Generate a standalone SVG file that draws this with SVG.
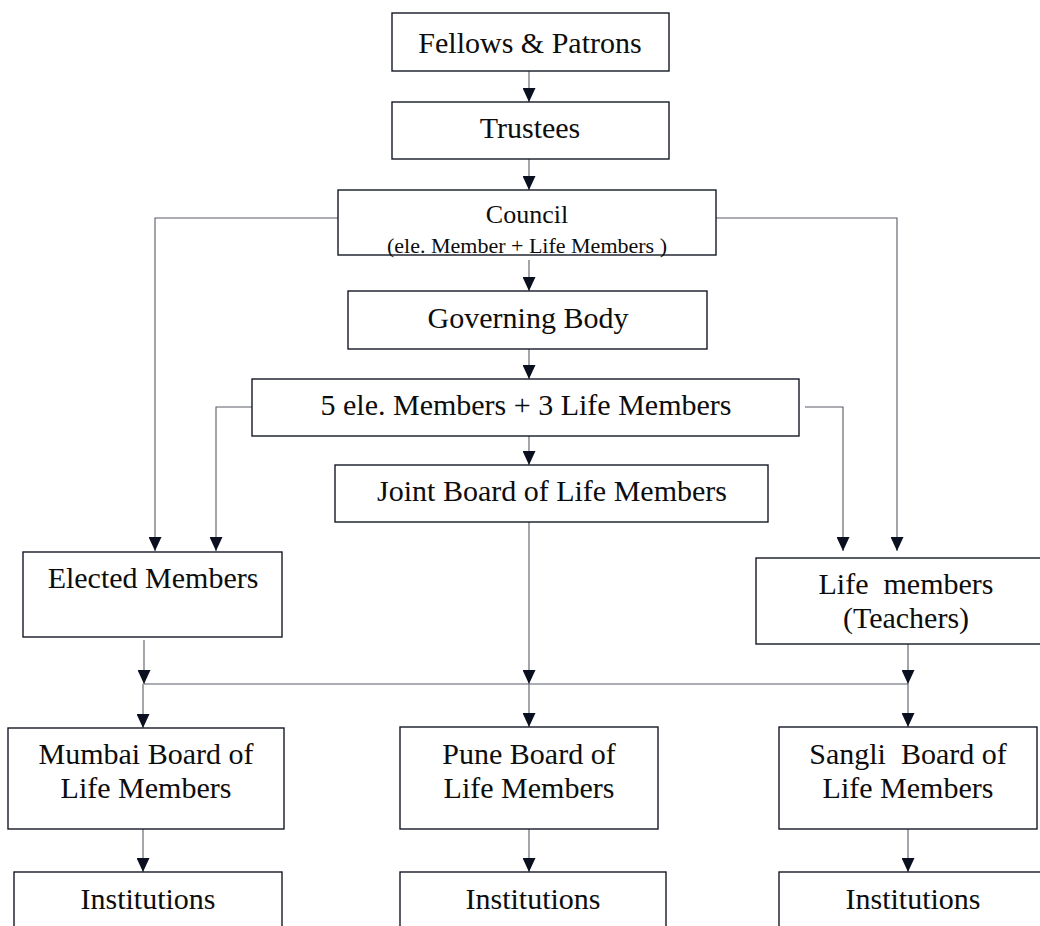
<svg xmlns="http://www.w3.org/2000/svg" width="1040" height="926" viewBox="0 0 1040 926">
<style>
.box{fill:#fff;stroke:#161925;stroke-width:1.4}
.t{font-family:"Liberation Serif","Times New Roman",serif;font-size:30px;fill:#0d0d0d;text-anchor:middle}
.c{stroke:#5a5c66;stroke-width:1.1;fill:none}
</style>
<defs>
<marker id="ah" viewBox="0 0 14 13" refX="14" refY="6.5" markerWidth="14" markerHeight="13" markerUnits="userSpaceOnUse" orient="auto">
<path d="M0,0 L14,6.5 L0,13 Z" fill="#0b1020"/>
</marker>
</defs>
<rect width="1040" height="926" fill="#fff"/>
<g id="connectors">
<path class="c" d="M529,71 V102" marker-end="url(#ah)"/>
<path class="c" d="M529,159 V190" marker-end="url(#ah)"/>
<path class="c" d="M529,260 V291" marker-end="url(#ah)"/>
<path class="c" d="M529,349 V379" marker-end="url(#ah)"/>
<path class="c" d="M529,436 V465" marker-end="url(#ah)"/>
<path class="c" d="M338,218 H155 V551" marker-end="url(#ah)"/>
<path class="c" d="M252,407 H216 V551" marker-end="url(#ah)"/>
<path class="c" d="M716,218 H897 V551" marker-end="url(#ah)"/>
<path class="c" d="M805,407 H843 V551" marker-end="url(#ah)"/>
<path class="c" d="M529,522 V684" marker-end="url(#ah)"/>
<path class="c" d="M144,640 V684" marker-end="url(#ah)"/>
<path class="c" d="M908,644 V684" marker-end="url(#ah)"/>
<path class="c" d="M144,684 H908"/>
<path class="c" d="M143,684 V728" marker-end="url(#ah)"/>
<path class="c" d="M529,684 V727" marker-end="url(#ah)"/>
<path class="c" d="M908,684 V727" marker-end="url(#ah)"/>
<path class="c" d="M143,829 V872" marker-end="url(#ah)"/>
<path class="c" d="M529,829 V872" marker-end="url(#ah)"/>
<path class="c" d="M908,829 V872" marker-end="url(#ah)"/>
</g>
<g id="fellows"><rect class="box" x="392" y="13" width="277" height="58"/><text class="t" x="530" y="53">Fellows &amp; Patrons</text></g>
<g id="trustees"><rect class="box" x="392" y="102" width="277" height="57"/><text class="t" x="530" y="138">Trustees</text></g>
<g id="council"><rect class="box" x="338" y="190" width="378" height="65"/><text class="t" x="527" y="223" style="font-size:26px">Council</text><text class="t" x="527" y="253" style="font-size:22px">(ele. Member + Life Members )</text></g>
<g id="governing"><rect class="box" x="348" y="291" width="359" height="58"/><text class="t" x="528" y="328">Governing Body</text></g>
<g id="ele"><rect class="box" x="252" y="379" width="547" height="57"/><text class="t" x="526" y="415">5 ele. Members + 3 Life Members</text></g>
<g id="joint"><rect class="box" x="335" y="465" width="433" height="57"/><text class="t" x="552" y="501">Joint Board of Life Members</text></g>
<g id="elected"><rect class="box" x="23" y="552" width="259" height="85"/><text class="t" x="153" y="588">Elected Members</text></g>
<g id="life"><rect class="box" x="756" y="558" width="300" height="86"/><text class="t" x="906" y="594" xml:space="preserve">Life  members</text><text class="t" x="906" y="628">(Teachers)</text></g>
<g id="mumbai"><rect class="box" x="8" y="728" width="276" height="101"/><text class="t" x="146" y="764">Mumbai Board of</text><text class="t" x="146" y="798">Life Members</text></g>
<g id="pune"><rect class="box" x="400" y="727" width="258" height="102"/><text class="t" x="529" y="764">Pune Board of</text><text class="t" x="529" y="798">Life Members</text></g>
<g id="sangli"><rect class="box" x="779" y="727" width="258" height="102"/><text class="t" x="908" y="764" xml:space="preserve">Sangli  Board of</text><text class="t" x="908" y="798">Life Members</text></g>
<g id="inst1"><rect class="box" x="14" y="872" width="268" height="70"/><text class="t" x="148" y="909">Institutions</text></g>
<g id="inst2"><rect class="box" x="400" y="872" width="266" height="70"/><text class="t" x="533" y="909">Institutions</text></g>
<g id="inst3"><rect class="box" x="779" y="872" width="268" height="70"/><text class="t" x="913" y="909">Institutions</text></g>
</svg>
